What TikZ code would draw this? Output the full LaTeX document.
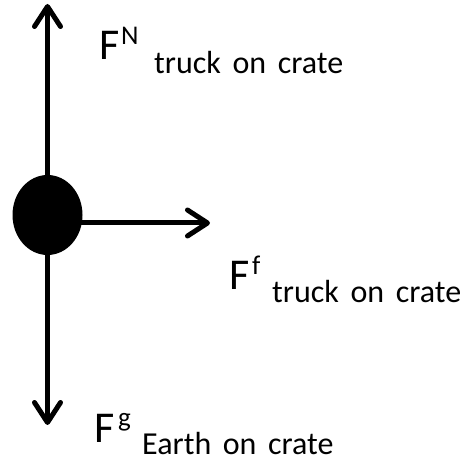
\documentclass[tikz,border=0pt]{standalone}
\usepackage{fontspec}
\setmainfont{Carlito}[WordSpace=1.6]
\usetikzlibrary{arrows.meta,shapes.geometric}

\tikzset{
  force/.style={line width=5pt, line cap=round,
    -{Straight Barb[length=20pt, width=26pt, line width=5pt, round]}},
  bigF/.style={inner sep=0pt, anchor=base west, font=\fontsize{44}{44}\selectfont},
  supF/.style={inner sep=0pt, anchor=base west, font=\fontsize{27}{27}\selectfont},
  subF/.style={inner sep=0pt, anchor=base west, font=\fontsize{32}{32}\selectfont}
}

\begin{document}
\begin{tikzpicture}[x=1pt, y=-1pt]
  \useasboundingbox (0,0) rectangle (464,462);
  % tips of the three forces
  \coordinate (ntip) at (47.5,4);
  \coordinate (gtip) at (47.5,425);
  \coordinate (ftip) at (210,223);
  \node[ellipse, fill=black, minimum width=70pt, minimum height=80pt, inner sep=0pt]
    (crate) at (47.5,215) {};
  \draw[force] (crate.center) -- (ntip);
  \draw[force] (crate.center) -- (gtip);
  \draw[force] (crate.center |- ftip) -- (ftip);
  % labels
  \node[bigF] (nF) at (99,60) {F};
  \node[supF] (nsup) at (121,45) {N};
  \node[subF] (nsub) at (154,74) {truck on crate};
  \node[bigF] (fF) at (229,290) {F};
  \node[supF] (fsup) at (252,275) {f};
  \node[subF] (fsub) at (272,303) {truck on crate};
  \node[bigF] (gF) at (94,443) {F};
  \node[supF] (gsup) at (118,427) {g};
  \node[subF] (gsub) at (142,455) {Earth on crate};
\end{tikzpicture}
\end{document}
